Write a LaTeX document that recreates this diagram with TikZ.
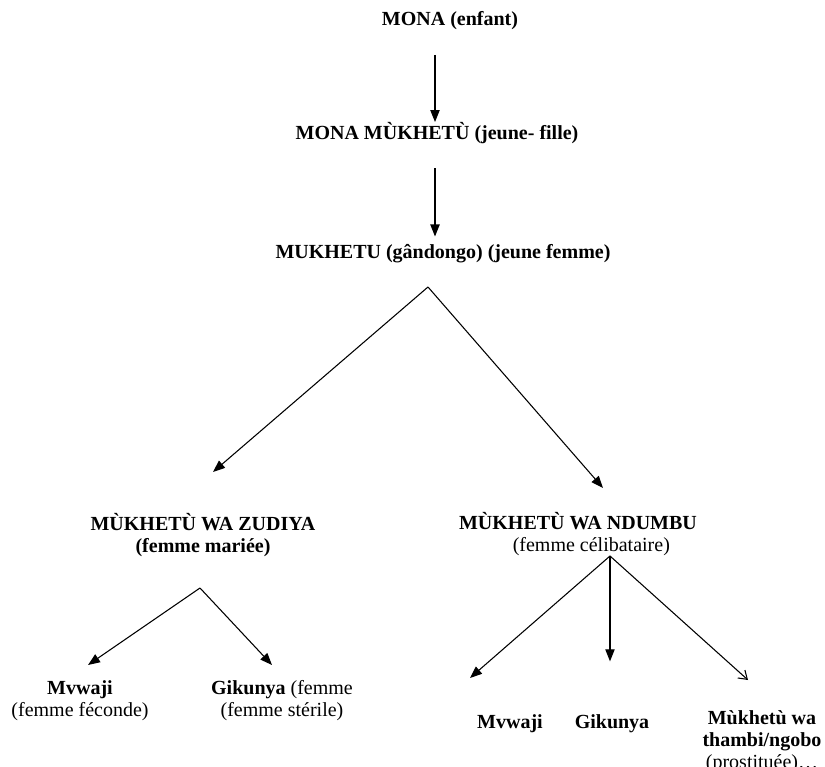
\documentclass[tikz,border=0pt]{standalone}
\usepackage{fontspec}
\setmainfont{Liberation Serif}
\usetikzlibrary{arrows.meta}

\begin{document}
\begin{tikzpicture}[x=0.75pt,y=-0.75pt,
  lbl/.style={inner sep=0pt,align=center,font=\fontsize{15}{16.5}\selectfont},
  arr/.style={line width=0.8pt,-{Triangle[length=9pt,width=7pt]}},
  arropen/.style={line width=0.8pt,-{Straight Barb[length=6pt,width=8pt]}}]
  \useasboundingbox (0,0) rectangle (825,767);

  % Stages of life
  \node[lbl] (mona) at (450,21) {\textbf{MONA (enfant)}};
  \node[lbl] (mmk) at (437,133) {\textbf{MONA MÙKHETÙ (jeune- fille)}};
  \node[lbl] (mukh) at (443,254) {\textbf{MUKHETU (gândongo) (jeune femme)}};
  \coordinate (s1) at (435,55);
  \coordinate (s2) at (435,168);
  \draw[arr] (s1) -- (s1 |- mmk.north);
  \draw[arr,shorten >=6pt] (s2) -- (s2 |- mukh.north);

  % Married or single
  \node[lbl] (zud) at (203,535) {\textbf{MÙKHETÙ WA ZUDIYA}\\\textbf{(femme mariée)}};
  \node[lbl] (ndu) at (578,534) {\textbf{MÙKHETÙ WA NDUMBU}\\\hspace*{20pt}(femme célibataire)};
  \coordinate (p0) at (428,287);
  \coordinate (t1) at (213,472);
  \coordinate (t2) at (603,488);
  \draw[arr] (p0) -- (t1);
  \draw[arr] (p0) -- (t2);

  % Married woman
  \node[lbl] (mv1) at (80,701) {\textbf{Mvwaji}\\(femme féconde)};
  \node[lbl] (gk1) at (282,701) {\textbf{Gikunya} (femme\\(femme stérile)};
  \coordinate (p1) at (200,588);
  \coordinate (t3) at (88,665);
  \coordinate (t4) at (272,665);
  \draw[arr] (p1) -- (t3);
  \draw[arr] (p1) -- (t4);

  % Single woman
  \node[lbl] (mv2) at (510,724) {\textbf{Mvwaji}};
  \node[lbl] (gk2) at (612,724) {\textbf{Gikunya}};
  \node[lbl] (thb) at (762,742) {\textbf{Mùkhetù wa}\\\textbf{thambi/ngobo}\\(prostituée)…};
  \coordinate (p2) at (610,556);
  \coordinate (t5) at (470,678);
  \coordinate (t6) at (748,680);
  \draw[arr] (p2) -- (t5);
  \draw[arr] (p2) -- (p2 |- gk2.north) [shorten >=40pt];
  \draw[arropen] (p2) -- (t6);
\end{tikzpicture}
\end{document}
